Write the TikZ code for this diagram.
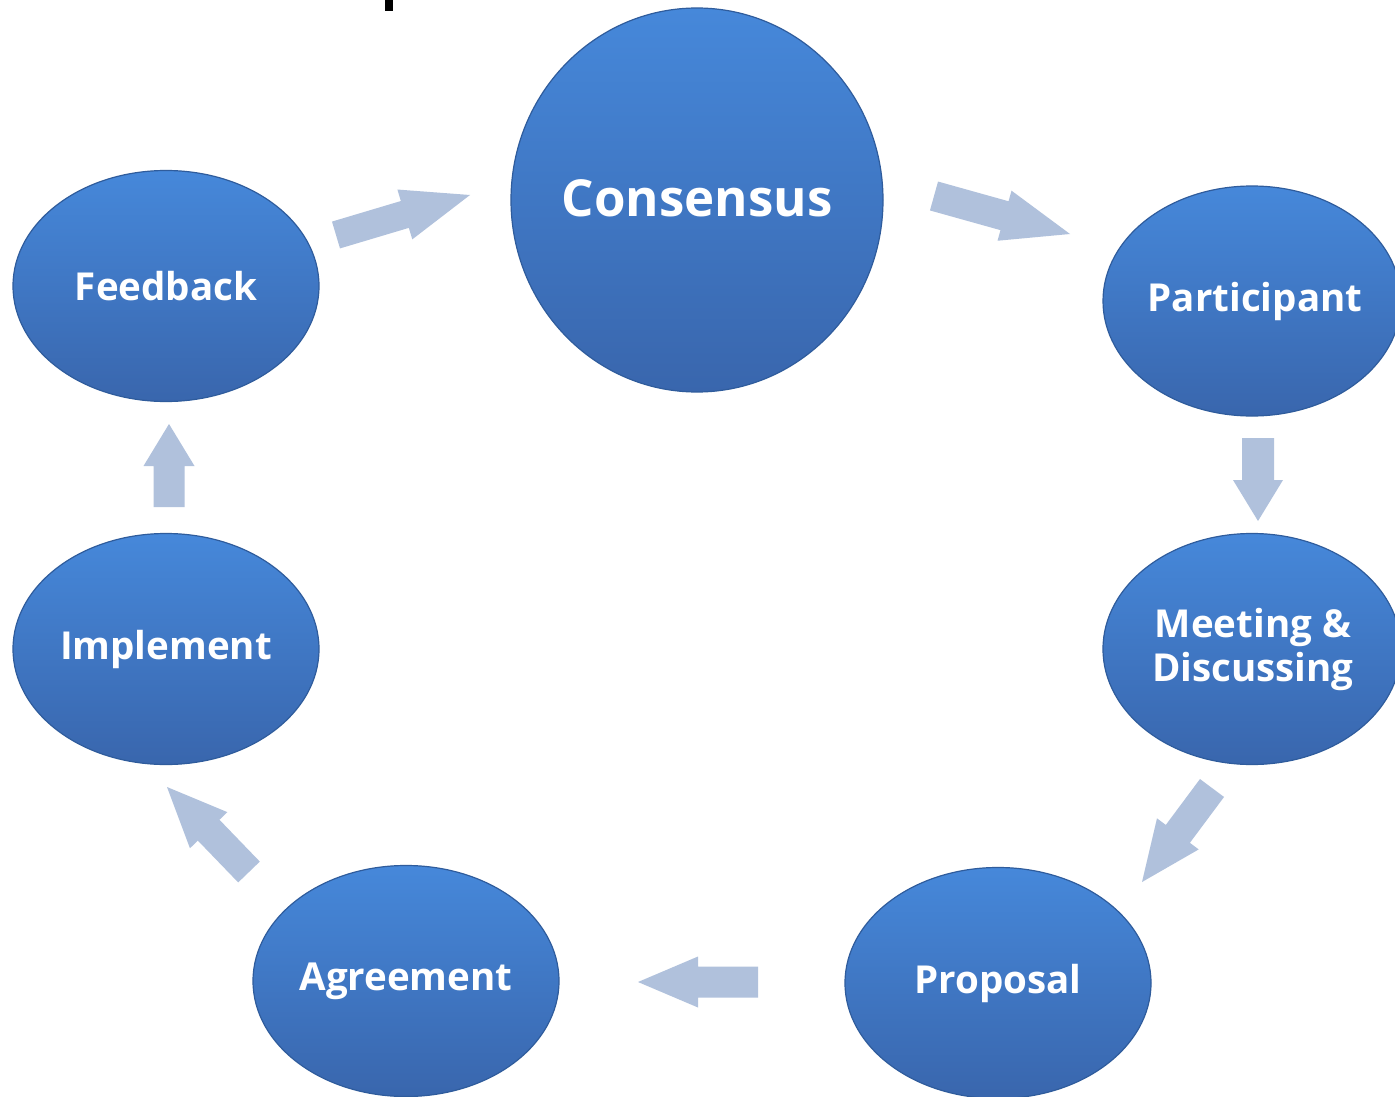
\documentclass[tikz,border=0pt]{standalone}
\usepackage{fontspec}
\setmainfont{Open Sans}[BoldFont={* Bold}]
\usetikzlibrary{shapes.geometric,calc}
\definecolor{blobtop}{HTML}{4688DA}
\definecolor{blobbot}{HTML}{3966AD}
\definecolor{blobedge}{HTML}{2F5C9C}
\definecolor{arrowcol}{HTML}{B0C1DC}
\tikzset{
  blob/.style={ellipse, draw=blobedge, line width=1.2pt, top color=blobtop, bottom color=blobbot,
    text=white, font=\bfseries\fontsize{38.5}{44}\selectfont, align=center, inner sep=0pt},
  arrowfill/.style={fill=arrowcol, draw=none},
}
\newcommand\zb[1]{\makebox[0pt][c]{#1}}
\newcommand\blockarrow[5]{%
  \coordinate (ba-m) at ($(#2)!#5!(#1)$);
  \fill[arrowfill] ($(#1)!#3!90:(#2)$) -- ($(ba-m)!#3!90:(#2)$) -- ($(ba-m)!#4!90:(#2)$) -- (#2)
    -- ($(ba-m)!#4!-90:(#2)$) -- ($(ba-m)!#3!-90:(#2)$) -- ($(#1)!#3!-90:(#2)$) -- cycle;}
\begin{document}
\begin{tikzpicture}[x=1pt,y=-1pt]
\useasboundingbox (0,0) rectangle (1395,1097);
\clip (0,0) rectangle (1395,1097);
\fill[white] (0,0) rectangle (1395,1097);
% stray mark at top
\fill[black] (385,0) rectangle (393,11);

\node[blob, minimum width=372pt, minimum height=384pt, font=\bfseries\fontsize{51}{56}\selectfont] (cons) at (697,200) {\raisebox{4pt}{\zb{Consensus}}};
\node[blob, minimum width=306pt, minimum height=231pt] (feed) at (166,286) {\zb{Feedback}};
\node[blob, minimum width=298pt, minimum height=230pt] (part) at (1252,301) {\raisebox{-2pt}{\zb{\hspace*{6pt}Participant}}};
\node[blob, minimum width=298pt, minimum height=231pt] (meet) at (1252,649) {\zb{\hspace*{2pt}Meeting \&}\\\zb{\hspace*{2pt}Discussing}};
\node[blob, minimum width=306pt, minimum height=231pt] (impl) at (166,649) {\zb{Implement}};
\node[blob, minimum width=306pt, minimum height=231pt] (prop) at (998,983) {\raisebox{-3pt}{\zb{Proposal}}};
\node[blob, minimum width=306pt, minimum height=231pt] (agre) at (406,981) {\raisebox{-3pt}{\zb{Agreement}}};

% arrows
\coordinate (a1s) at (336,235); \coordinate (a1e) at (470,195);
\coordinate (a2s) at (934,196); \coordinate (a2e) at (1070,234);
\coordinate (a3s) at (1258,438); \coordinate (a3e) at (1258,521);
\coordinate (a4s) at (1212,788); \coordinate (a4e) at (1142,882);
\coordinate (a5s) at (758,982); \coordinate (a5e) at (638,982);
\coordinate (a6s) at (249,872); \coordinate (a6e) at (167,787);
\coordinate (a7s) at (169,507); \coordinate (a7e) at (169,424);
\blockarrow{a1s}{a1e}{14pt}{26pt}{68pt}
\blockarrow{a2s}{a2e}{15pt}{26pt}{68pt}
\blockarrow{a3s}{a3e}{16pt}{25pt}{41pt}
\blockarrow{a4s}{a4e}{15pt}{26pt}{60pt}
\blockarrow{a5s}{a5e}{15.5pt}{25.5pt}{60pt}
\blockarrow{a6s}{a6e}{15pt}{26pt}{60pt}
\blockarrow{a7s}{a7e}{15.5pt}{25.5pt}{42pt}
\end{tikzpicture}
\end{document}
